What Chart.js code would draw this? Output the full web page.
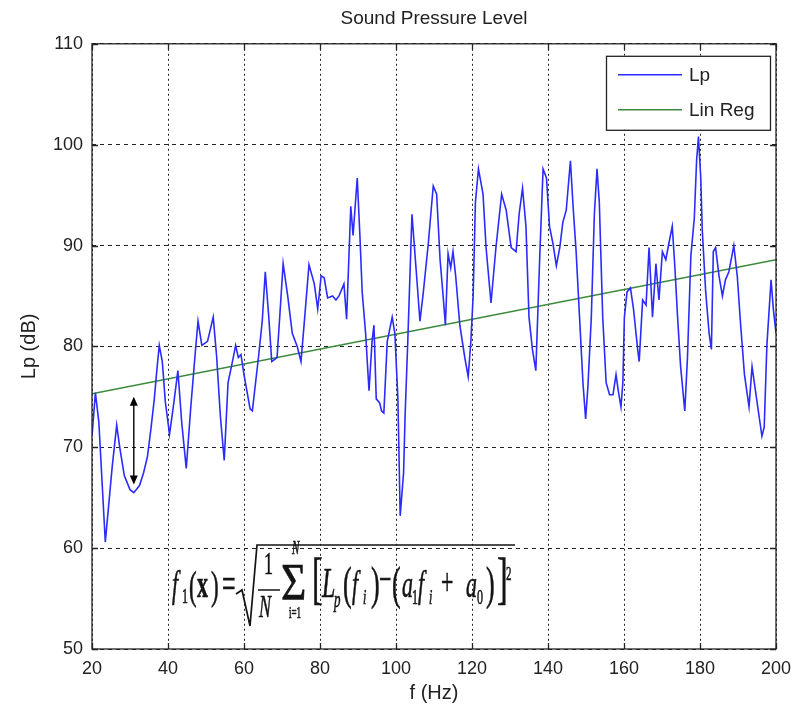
<!DOCTYPE html>
<html>
<head>
<meta charset="utf-8">
<title>Sound Pressure Level</title>
<script src="https://cdn.jsdelivr.net/npm/chart.js@4.4.1/dist/chart.umd.min.js"></script>
<style>
  html, body { margin: 0; padding: 0; background: #fff; }
  #wrap { position: relative; width: 791px; height: 713px; }
  #formula { position: absolute; left: 0; top: 0; pointer-events: none; }
  #formula text {
    font-family: 'Liberation Serif', 'Times New Roman', serif;
    fill: #141414; stroke: #141414; stroke-width: 0.35px;
  }
</style>
</head>
<body>
<div id="wrap">
  <canvas id="spl-chart" width="791" height="713"></canvas>

  <!-- cost function, drawn as text over the plot -->
  <svg id="formula" width="791" height="713">
    <polyline points="236,594 242,590 250,626 257,545 515,545" fill="none" stroke="#141414" stroke-width="1.7"/>
    <line x1="258" y1="590" x2="280" y2="590" stroke="#141414" stroke-width="1.5"/>
    <g transform="translate(0 597) scale(1 1.75) translate(0 -597)">
      <text x="172" y="597" font-size="22" font-style="italic">f</text>
      <text x="182" y="600.5" font-size="12">1</text>
      <text x="189" y="598" font-size="23">(</text>
      <text x="197" y="597" font-size="22" font-weight="bold">x</text>
      <text x="211" y="598" font-size="23">)</text>
      <text x="222" y="597" font-size="24">=</text>

      <text x="264" y="584" font-size="18">1</text>
      <text x="259" y="608.4" font-size="18" font-style="italic">N</text>
      <text x="292" y="572.5" font-size="11" font-style="italic">N</text>
      <text transform="translate(281 0) scale(1.45 1) translate(-281 0)" x="281" y="598.5" font-size="30">Σ</text>
      <text x="289" y="609" font-size="9">i=1</text>

      <text x="312" y="597" font-size="32">[</text>
      <text x="322" y="597" font-size="24" font-style="italic">L</text>
      <text x="334" y="603" font-size="13" font-style="italic">p</text>
      <text x="343" y="598" font-size="26">(</text>
      <text x="352" y="597" font-size="22" font-style="italic">f</text>
      <text x="363" y="601" font-size="12" font-style="italic">i</text>
      <text x="371" y="598" font-size="26">)</text>
      <text x="379" y="594" font-size="22">−</text>
      <text x="392" y="598" font-size="26">(</text>
      <text x="402" y="597" font-size="22" font-style="italic">a</text>
      <text x="412" y="601" font-size="12">1</text>
      <text x="418" y="597" font-size="22" font-style="italic">f</text>
      <text x="429" y="601" font-size="12" font-style="italic">i</text>
      <text x="441" y="596" font-size="22">+</text>
      <text x="466" y="597" font-size="22" font-style="italic">a</text>
      <text x="477" y="601" font-size="12">0</text>
      <text x="486" y="598" font-size="26">)</text>
      <text x="497" y="597" font-size="32">]</text>
      <text x="506" y="587.3" font-size="11">2</text>
    </g>
  </svg>
</div>

<script>
/* ── data ───────────────────────────────────────────────── */
const freq = [
  20, 20.9, 21.8, 23.5, 25.3, 26.5, 27.3, 28.5, 30.0, 31.0, 32.5, 33.6, 34.6, 35.5, 36.4, 37.1, 37.7, 38.5, 39.3,
  40.4, 41.4, 42.6, 43.6, 44.8, 46.0, 47.2, 47.9, 48.9, 50.4, 51.9, 52.8, 53.8, 54.8, 55.8, 56.8, 57.8, 58.5, 59.2,
  60.0, 61.6, 62.2, 63.8, 64.8, 65.6, 66.5, 67.3, 68.7, 69.5, 70.3, 71.5, 72.7, 74.0, 75.0, 76.0, 77.1, 78.5, 79.4,
  80.3, 81.1, 82.0, 83.3, 84.2, 85.0, 86.3, 87.0, 88.1, 88.7, 89.8, 90.5, 91.1, 92.0, 92.9, 93.7, 94.2, 94.8, 95.7,
  96.2, 96.8, 97.7, 99.0, 99.7, 100.5, 101.1, 102.0, 102.4, 103.1, 104.2, 105.5, 106.3, 107.2, 108.5, 109.8, 110.7,
  111.6, 112.4, 113.0, 113.7, 114.4, 115.0, 115.7, 116.8, 118.1, 119.0, 119.7, 120.3, 120.9, 121.7, 122.9, 123.7,
  125.0, 126.3, 127.8, 129.0, 130.3, 131.6, 132.4, 133.3, 134.2, 135.0, 135.9, 136.8, 137.8, 138.7, 139.6, 140.4,
  141.3, 142.2, 143.1, 143.9, 144.8, 145.9, 146.6, 147.4, 148.3, 149.2, 149.9, 150.5, 151.4, 152.2, 152.9, 153.5,
  154.4, 155.3, 156.2, 157.1, 157.9, 158.5, 159.2, 159.7, 160.1, 160.8, 161.7, 162.5, 163.6, 164.0, 164.9, 165.8,
  166.6, 167.5, 168.4, 169.2, 170.1, 171.0, 171.8, 172.7, 173.4, 174.1, 174.9, 176.0, 176.7, 177.6, 178.5, 179.1,
  179.6, 180.2, 180.6, 181.5, 182.4, 183.0, 183.5, 184.1, 185.0, 185.9, 186.7, 187.6, 188.9, 189.8, 190.7, 191.7,
  192.9, 193.7, 194.6, 195.5, 196.3, 196.9, 197.6, 198.7, 199.3, 200.0
];
const lp = [
  71.1, 75.4, 72.5, 60.6, 68.0, 72.2, 70.0, 67.2, 65.8, 65.5, 66.2, 67.5, 69.1, 71.8, 74.8, 77.8, 80.1, 78.5, 74.5,
  71.3, 74.0, 77.6, 72.5, 67.9, 74.0, 79.5, 82.5, 80.1, 80.5, 82.9, 79.0, 73.0, 68.7, 76.4, 78.2, 80.1, 78.9, 79.2,
  77.2, 73.8, 73.6, 78.9, 82.5, 87.4, 83.0, 78.5, 78.9, 83.5, 88.2, 85.0, 81.3, 80.0, 78.5, 83.0, 88.1, 86.2, 83.7,
  87.0, 86.8, 84.8, 85.0, 84.6, 85.0, 86.2, 82.7, 93.9, 91.0, 96.7, 91.0, 85.4, 81.3, 75.6, 80.5, 82.1, 74.8, 74.4,
  73.6, 73.4, 80.5, 82.9, 81.3, 74.8, 63.2, 67.5, 73.2, 80.5, 93.1, 86.6, 82.5, 85.4, 90.2, 95.9, 95.1,
  88.6, 85.0, 82.1, 89.2, 87.8, 89.4, 87.0, 82.1, 78.9, 77.0, 80.5, 85.0, 94.3, 97.6, 95.1, 89.8,
  84.3, 89.8, 95.1, 93.5, 89.8, 89.4, 93.1, 95.7, 91.9, 82.9, 79.7, 77.6, 88.6, 97.6, 96.7, 91.9,
  90.2, 88.0, 89.8, 92.3, 93.5, 98.4, 93.9, 89.4, 82.9, 76.4, 72.8, 76.0, 82.9, 93.1, 97.6, 94.3,
  82.9, 76.4, 75.2, 75.2, 77.2, 75.6, 74.0, 76.4, 82.9, 85.4, 85.8, 83.7, 79.7, 78.5, 84.6, 84.1,
  89.8, 82.9, 88.2, 84.6, 89.4, 88.6, 90.2, 91.9, 87.8, 82.9, 78.0, 73.6, 78.9, 89.0, 92.7, 98.4,
  100.8, 96.7, 91.5, 85.4, 81.3, 79.7, 89.4, 89.8, 87.0, 85.0, 86.6, 87.4, 90.0, 87.0, 82.1, 77.2,
  74.0, 78.0, 75.6, 73.2, 71.1, 72.0, 80.1, 86.6, 83.7, 81.3
];

// linear regression end points
const regFreq = [20, 200];
const regLp   = [75.3, 88.6];

// double arrow marking the deviation at one frequency
const arrowFreq = 31;
const arrowLp   = [66.3, 75.0];

const xTickValues = [20, 40, 60, 80, 100, 120, 140, 160, 180, 200];
const yTickValues = [50, 60, 70, 80, 90, 100, 110];

/* ── look ───────────────────────────────────────────────── */
const SANS = "'Liberation Sans', Arial, sans-serif";
const INK  = '#222';

Chart.defaults.font.family = SANS;
Chart.defaults.color       = INK;

/* box round the axes + inward MATLAB style ticks */
const framePlugin = {
  id: 'frame',
  afterDatasetsDraw(chart) {
    const { ctx, chartArea: { left, top, right, bottom }, scales: { x, y } } = chart;
    const tick = 6;
    ctx.save();
    ctx.strokeStyle = INK;
    ctx.lineWidth = 1.3;
    ctx.strokeRect(left, top, right - left, bottom - top);
    ctx.beginPath();
    x.ticks.forEach(t => {
      const px = Math.round(x.getPixelForValue(t.value)) + 0.5;
      ctx.moveTo(px, bottom); ctx.lineTo(px, bottom - tick);
      ctx.moveTo(px, top);    ctx.lineTo(px, top + tick);
    });
    y.ticks.forEach(t => {
      const py = Math.round(y.getPixelForValue(t.value)) + 0.5;
      ctx.moveTo(left, py);  ctx.lineTo(left + tick, py);
      ctx.moveTo(right, py); ctx.lineTo(right - tick, py);
    });
    ctx.stroke();
    ctx.restore();
  },
};

/* vertical double arrow */
const arrowPlugin = {
  id: 'arrow',
  afterDatasetsDraw(chart) {
    const { ctx, scales: { x, y } } = chart;
    const px = x.getPixelForValue(arrowFreq);
    const y1 = y.getPixelForValue(arrowLp[1]);
    const y2 = y.getPixelForValue(arrowLp[0]);
    const h = 9, w = 4;
    ctx.save();
    ctx.strokeStyle = '#000';
    ctx.fillStyle = '#000';
    ctx.lineWidth = 1.4;
    ctx.beginPath();
    ctx.moveTo(px, y1 + 2); ctx.lineTo(px, y2 - 2);
    ctx.stroke();
    ctx.beginPath();
    ctx.moveTo(px, y1); ctx.lineTo(px - w, y1 + h); ctx.lineTo(px + w, y1 + h); ctx.closePath();
    ctx.moveTo(px, y2); ctx.lineTo(px - w, y2 - h); ctx.lineTo(px + w, y2 - h); ctx.closePath();
    ctx.fill();
    ctx.restore();
  },
};

/* boxed legend in the top right corner */
const legendBoxPlugin = {
  id: 'legendBox',
  afterDraw(chart) {
    const { ctx, chartArea: { top, right } } = chart;
    const boxW = 164, boxH = 74;
    const bx = right - 6 - boxW, by = top + 12;
    ctx.save();
    ctx.fillStyle = '#fff';
    ctx.fillRect(bx, by, boxW, boxH);
    ctx.strokeStyle = INK;
    ctx.lineWidth = 1.3;
    ctx.strokeRect(bx + 0.5, by + 0.5, boxW, boxH);
    ctx.font = `19px ${SANS}`;
    ctx.textBaseline = 'middle';
    chart.data.datasets.forEach((ds, i) => {
      const ly = by + 19 + i * 35;
      ctx.strokeStyle = ds.borderColor;
      ctx.lineWidth = ds.borderWidth;
      ctx.beginPath();
      ctx.moveTo(bx + 12, ly); ctx.lineTo(bx + 76, ly);
      ctx.stroke();
      ctx.fillStyle = INK;
      ctx.fillText(ds.label, bx + 83, ly + 1);
    });
    ctx.restore();
  },
};

/* ── chart ──────────────────────────────────────────────── */
const ctx = document.getElementById('spl-chart');

new Chart(ctx, {
  type: 'line',
  data: {
    datasets: [
      {
        label: 'Lp',
        data: freq.map((f, i) => ({ x: f, y: lp[i] })),
        borderColor: '#2b2bff',
        borderWidth: 1.6,
        pointRadius: 0,
        tension: 0,
        fill: false,
      },
      {
        label: 'Lin Reg',
        data: regFreq.map((f, i) => ({ x: f, y: regLp[i] })),
        borderColor: '#3b8a3b',
        borderWidth: 1.5,
        pointRadius: 0,
        fill: false,
      },
    ],
  },
  options: {
    responsive: false,
    animation: false,
    layout: { padding: { top: 0, right: 15, bottom: 0, left: 0 } },
    plugins: {
      legend: { display: false },
      tooltip: { enabled: false },
      title: {
        display: true,
        text: 'Sound Pressure Level',
        fullSize: false,
        color: INK,
        font: { size: 19, weight: 'normal' },
        padding: { top: 7, bottom: 14 },
      },
    },
    scales: {
      x: {
        type: 'linear',
        min: 20,
        max: 200,
        afterBuildTicks(scale) { scale.ticks = xTickValues.map(v => ({ value: v })); },
        afterFit(scale) { scale.height = 64; scale.paddingLeft = 0; scale.paddingRight = 0; },
        grid: { color: INK, lineWidth: 1, drawTicks: false },
        border: { display: false, dash: [2, 3] },
        ticks: { padding: 9, color: INK, font: { size: 18 }, maxRotation: 0, autoSkip: false },
        title: { display: true, text: 'f (Hz)', color: INK, font: { size: 20 }, padding: { top: 0, bottom: 8 } },
      },
      y: {
        type: 'linear',
        min: 50,
        max: 110,
        afterBuildTicks(scale) { scale.ticks = yTickValues.map(v => ({ value: v })); },
        afterFit(scale) { scale.width = 92; scale.paddingTop = 0; scale.paddingBottom = 0; },
        grid: { color: INK, lineWidth: 1, drawTicks: false },
        border: { display: false, dash: [4, 4] },
        ticks: { padding: 9, color: INK, font: { size: 18 }, autoSkip: false },
        title: { display: true, text: 'Lp (dB)', color: INK, font: { size: 20 }, padding: { top: 17, bottom: 0 } },
      },
    },
  },
  plugins: [framePlugin, arrowPlugin, legendBoxPlugin],
});
</script>
</body>
</html>
